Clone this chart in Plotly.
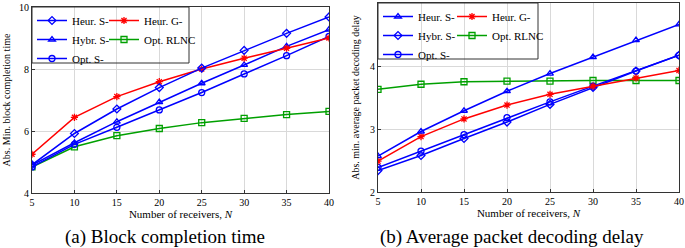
import plotly.graph_objects as go

W, H = 685, 248

N = [5, 10, 15, 20, 25, 30, 35, 40]

# (a) Block completion time
a_heur_s = [4.91, 5.92, 6.71, 7.40, 8.03, 8.60, 9.15, 9.68]
a_heur_g = [5.25, 6.44, 7.11, 7.59, 8.00, 8.35, 8.67, 9.00]
a_hybr_s = [4.90, 5.62, 6.30, 6.93, 7.54, 8.13, 8.73, 9.27]
a_opt_s = [4.84, 5.57, 6.12, 6.68, 7.24, 7.84, 8.43, 9.05]
a_opt_rlnc = [4.84, 5.49, 5.85, 6.08, 6.27, 6.41, 6.53, 6.63]

# (b) Average packet decoding delay
b_heur_s = [2.57, 2.96, 3.29, 3.60, 3.88, 4.14, 4.41, 4.66]
b_heur_g = [2.49, 2.88, 3.16, 3.38, 3.55, 3.68, 3.81, 3.93]
b_hybr_s = [2.34, 2.58, 2.85, 3.11, 3.39, 3.66, 3.92, 4.17]
b_opt_s = [2.39, 2.65, 2.91, 3.18, 3.43, 3.68, 3.92, 4.17]
b_opt_rlnc = [3.63, 3.71, 3.75, 3.76, 3.76, 3.77, 3.77, 3.77]

x_ticks = [5, 10, 15, 20, 25, 30, 35, 40]
a_y_ticks = [4, 6, 8, 10]
b_y_ticks = [2, 3, 4, 5]

BLUE = "#0000ff"
RED = "#ff0000"
GREEN = "#00a000"
FONT = "Liberation Serif"

def px_x(p):
    return p / W

def px_y(p):
    return 1 - p / H

fig = go.Figure()

def add(x, y, name, color, symbol, xa, ya, legend, size=6):
    fig.add_trace(go.Scatter(
        x=x, y=y, name=name, mode="lines+markers",
        line=dict(color=color, width=1.5),
        marker=dict(symbol=symbol, size=size, color=color,
                    line=dict(color=color, width=1.3)),
        xaxis=xa, yaxis=ya, legend=legend))

# left panel: diamond = Heur S-, triangle = Hybr S-
add(N, a_opt_rlnc, "Opt. RLNC", GREEN, "square-open", "x", "y", "legend2")
add(N, a_opt_s, "Opt. S-", BLUE, "circle-open", "x", "y", "legend")
add(N, a_hybr_s, "Hybr. S-", BLUE, "triangle-up-open", "x", "y", "legend")
add(N, a_heur_g, "Heur. G-", RED, "asterisk-open", "x", "y", "legend2")
add(N, a_heur_s, "Heur. S-", BLUE, "diamond-open", "x", "y", "legend")

# right panel: triangle = Heur S-, diamond = Hybr S-
add(N, b_opt_rlnc, "Opt. RLNC", GREEN, "square-open", "x2", "y2", "legend4")
add(N, b_opt_s, "Opt. S-", BLUE, "circle-open", "x2", "y2", "legend3")
add(N, b_hybr_s, "Hybr. S-", BLUE, "diamond-open", "x2", "y2", "legend3")
add(N, b_heur_g, "Heur. G-", RED, "asterisk-open", "x2", "y2", "legend4")
add(N, b_heur_s, "Heur. S-", BLUE, "triangle-up-open", "x2", "y2", "legend3")

axis_common = dict(showgrid=True, gridcolor="#d9d9d9", gridwidth=1,
                   showline=True, linecolor="#333333", linewidth=1, mirror=True,
                   ticks="inside", ticklen=3, tickcolor="#333333",
                   tickfont=dict(family=FONT, size=10, color="black"),
                   zeroline=False, automargin=False)

leg_common = dict(font=dict(family=FONT, size=11, color="black"),
                  bgcolor="rgba(0,0,0,0)", borderwidth=0,
                  traceorder="reversed", itemwidth=30,
                  xanchor="left", yanchor="top", tracegroupgap=0)

fig.update_layout(
    width=W, height=H, margin=dict(l=0, r=0, t=0, b=0, autoexpand=False),
    paper_bgcolor="white", plot_bgcolor="white",
    font=dict(family=FONT, color="black"),
    xaxis=dict(domain=[px_x(32), px_x(329)], range=[5, 40], tickvals=x_ticks,
               title=dict(text="Number of receivers, <i>N</i>", font=dict(size=11), standoff=3),
               anchor="y", **axis_common),
    yaxis=dict(domain=[px_y(193), px_y(7)], range=[4, 10], tickvals=a_y_ticks,
               title=dict(text="Abs. Min. block completion time", font=dict(size=10), standoff=6),
               anchor="x", **axis_common),
    xaxis2=dict(domain=[px_x(378), px_x(679)], range=[5, 40], tickvals=x_ticks,
                title=dict(text="Number of receivers, <i>N</i>", font=dict(size=11), standoff=3),
                anchor="y2", **axis_common),
    yaxis2=dict(domain=[px_y(192), px_y(3)], range=[2, 5], tickvals=b_y_ticks,
                title=dict(text="Abs. min. average packet decoding delay", font=dict(size=10), standoff=8),
                anchor="x2", **axis_common),
    legend=dict(x=px_x(32), y=px_y(6), **leg_common),
    legend2=dict(x=px_x(104), y=px_y(6), **leg_common),
    legend3=dict(x=px_x(378), y=px_y(2), **leg_common),
    legend4=dict(x=px_x(452), y=px_y(2), **leg_common),
    shapes=[
        dict(type="rect", xref="paper", yref="paper",
             x0=px_x(32), x1=px_x(189), y0=px_y(63), y1=px_y(7),
             line=dict(color="#333333", width=1), fillcolor="rgba(0,0,0,0)"),
        dict(type="rect", xref="paper", yref="paper",
             x0=px_x(378), x1=px_x(538), y0=px_y(59), y1=px_y(3),
             line=dict(color="#333333", width=1), fillcolor="rgba(0,0,0,0)"),
    ],
    annotations=[
        dict(text="(a) Block completion time", xref="paper", yref="paper",
             x=px_x(165), y=px_y(237), xanchor="center", yanchor="middle",
             showarrow=False, font=dict(family=FONT, size=19, color="black")),
        dict(text="(b) Average packet decoding delay", xref="paper", yref="paper",
             x=px_x(512), y=px_y(237), xanchor="center", yanchor="middle",
             showarrow=False, font=dict(family=FONT, size=19, color="black")),
    ],
)

fig.write_html("out.html", config={"displayModeBar": False},
               post_script="document.body.style.margin='0';document.body.style.padding='0';")
